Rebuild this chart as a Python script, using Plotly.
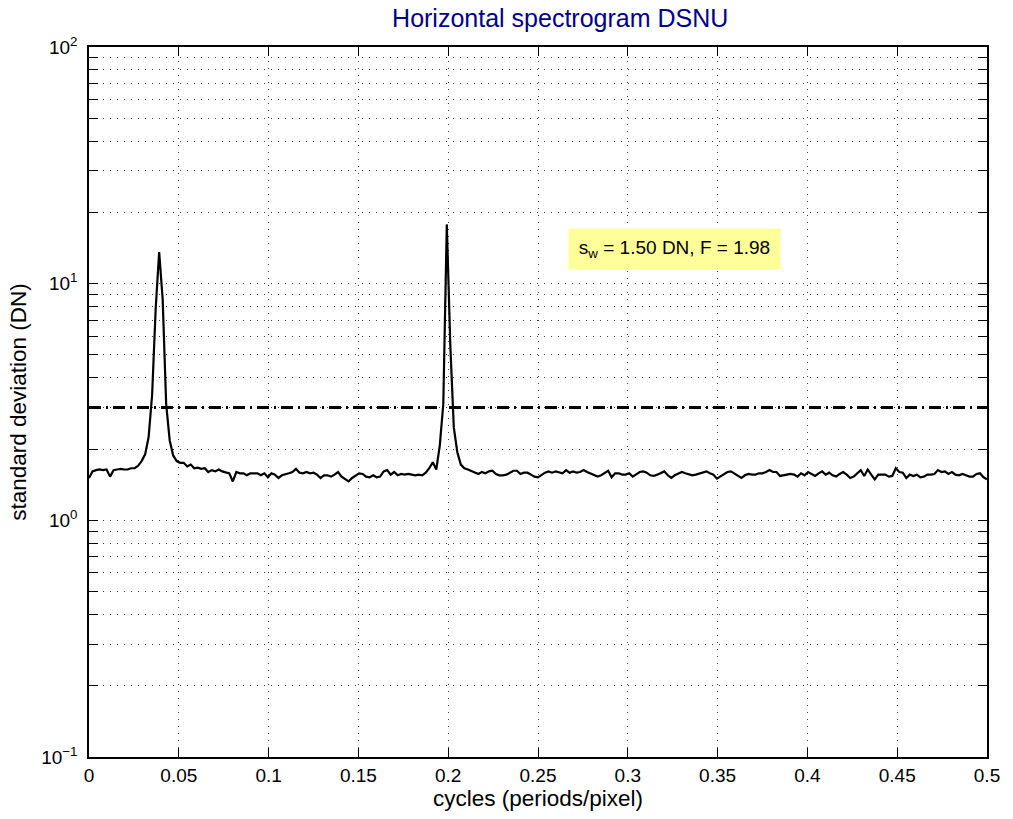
import numpy as np
import plotly.graph_objects as go

# frequency grid: 0 .. 0.5 cycles/pixel in steps of 1/512
n_points = 257
freq = np.arange(n_points) / 512.0

# standard deviation spectrogram values (DN)
sd = [
    1.51, 1.61, 1.63, 1.64, 1.63, 1.64, 1.53, 1.63, 1.64, 1.65,
    1.64, 1.64, 1.66, 1.66, 1.70, 1.78, 1.90, 2.25, 3.4, 7.8,
    13.6, 8.6, 3.1, 2.18, 1.88, 1.78, 1.75, 1.75, 1.69, 1.72,
    1.66, 1.67, 1.65, 1.66, 1.60, 1.63, 1.61, 1.64, 1.61, 1.60,
    1.58, 1.46, 1.60, 1.58, 1.58, 1.55, 1.58, 1.58, 1.58, 1.55,
    1.58, 1.52, 1.58, 1.56, 1.51, 1.55, 1.56, 1.58, 1.60, 1.65,
    1.59, 1.58, 1.60, 1.58, 1.59, 1.56, 1.51, 1.55, 1.55, 1.53,
    1.56, 1.60, 1.53, 1.50, 1.46, 1.51, 1.55, 1.58, 1.57, 1.53,
    1.52, 1.55, 1.52, 1.53, 1.61, 1.63, 1.56, 1.60, 1.55, 1.57,
    1.56, 1.57, 1.56, 1.55, 1.56, 1.55, 1.59, 1.66, 1.76, 1.64,
    2.07, 3.1, 17.8, 5.5, 2.47, 1.94, 1.72, 1.66, 1.64, 1.62,
    1.60, 1.57, 1.60, 1.58, 1.61, 1.62, 1.57, 1.55, 1.55, 1.56,
    1.59, 1.62, 1.62, 1.57, 1.59, 1.59, 1.56, 1.53, 1.52, 1.56,
    1.59, 1.61, 1.59, 1.61, 1.59, 1.58, 1.63, 1.59, 1.61, 1.59,
    1.60, 1.63, 1.60, 1.58, 1.56, 1.53, 1.55, 1.59, 1.62, 1.52,
    1.58, 1.58, 1.56, 1.56, 1.58, 1.53, 1.57, 1.60, 1.61, 1.59,
    1.55, 1.54, 1.56, 1.58, 1.61, 1.55, 1.51, 1.55, 1.58, 1.60,
    1.58, 1.56, 1.55, 1.56, 1.58, 1.60, 1.61, 1.58, 1.56, 1.50,
    1.53, 1.56, 1.60, 1.61, 1.58, 1.54, 1.51, 1.55, 1.57, 1.56,
    1.56, 1.58, 1.58, 1.60, 1.63, 1.60, 1.60, 1.54, 1.55, 1.55,
    1.57, 1.56, 1.53, 1.58, 1.55, 1.60, 1.57, 1.54, 1.58, 1.61,
    1.56, 1.59, 1.55, 1.53, 1.57, 1.60, 1.56, 1.51, 1.53, 1.58,
    1.63, 1.54, 1.64, 1.56, 1.49, 1.56, 1.56, 1.56, 1.53, 1.54,
    1.66, 1.60, 1.59, 1.51, 1.56, 1.54, 1.56, 1.52, 1.53, 1.56,
    1.56, 1.57, 1.63, 1.60, 1.61, 1.57, 1.60, 1.56, 1.55, 1.57,
    1.55, 1.53, 1.53, 1.57, 1.58, 1.52, 1.49,
]

threshold_x = [0.0, 0.5]
threshold_y = [3.0, 3.0]

x_ticks = [0, 0.05, 0.1, 0.15, 0.2, 0.25, 0.3, 0.35, 0.4, 0.45, 0.5]
x_ticktext = ["0", "0.05", "0.1", "0.15", "0.2", "0.25", "0.3", "0.35", "0.4", "0.45", "0.5"]
y_ticks = [0.1, 1, 10, 100]
y_ticktext = ["10<sup>−1</sup>", "10<sup>0</sup>", "10<sup>1</sup>", "10<sup>2</sup>"]
y_minor = [m * d for d in (0.1, 1, 10) for m in range(2, 10)]

title_text = "Horizontal spectrogram DSNU"
x_title = "cycles (periods/pixel)"
y_title = "standard deviation (DN)"
note_text = "s<sub>w</sub> = 1.50 DN, F = 1.98"
note_pos = (0.326, 1.145)

FONT = "Liberation Sans, Arial, Helvetica, sans-serif"
GRID = "rgba(0,0,0,0.75)"
GDASH = "1px,6px"

fig = go.Figure()
fig.add_trace(go.Scatter(x=threshold_x, y=threshold_y, mode="lines",
                         line=dict(color="black", width=3, dash="12px,5px,2px,5px"),
                         hoverinfo="skip"))
fig.add_trace(go.Scatter(x=freq, y=sd, mode="lines",
                         line=dict(color="black", width=2.2)))

axis_common = dict(showline=True, linecolor="black", linewidth=1.5, mirror="ticks",
                   ticks="inside", ticklen=9, tickcolor="black", tickwidth=1,
                   showgrid=True, gridcolor=GRID, gridwidth=1, griddash=GDASH,
                   zeroline=False, tickfont=dict(family=FONT, size=19, color="black"))

fig.update_xaxes(range=[0, 0.5], tickvals=x_ticks, ticktext=x_ticktext,
                 title=dict(text=x_title, font=dict(family=FONT, size=22.5, color="black"), standoff=6),
                 **axis_common)
fig.update_yaxes(type="log", range=[-1, 2], tickvals=y_ticks, ticktext=y_ticktext,
                 title=dict(text=y_title, font=dict(family=FONT, size=22.5, color="black"), standoff=8),
                 minor=dict(tickvals=y_minor, ticks="inside", ticklen=9, tickcolor="black",
                            showgrid=True, gridcolor=GRID, gridwidth=1, griddash=GDASH),
                 ticklabelstandoff=6,
                 **axis_common)

fig.add_annotation(x=note_pos[0], y=note_pos[1], xref="x", yref="y", text=note_text,
                   showarrow=False, bgcolor="#FFFF99", borderpad=4, width=203, height=32,
                   font=dict(family=FONT, size=19, color="black"))

fig.update_layout(
    width=1013, height=819,
    margin=dict(l=89, r=26, t=47, b=56),
    paper_bgcolor="white", plot_bgcolor="white",
    showlegend=False,
    title=dict(text=title_text, x=0.553, xanchor="center", y=0.978, yanchor="middle",
               font=dict(family=FONT, size=25, color="#00008F")),
)

fig.write_html("out.html")
